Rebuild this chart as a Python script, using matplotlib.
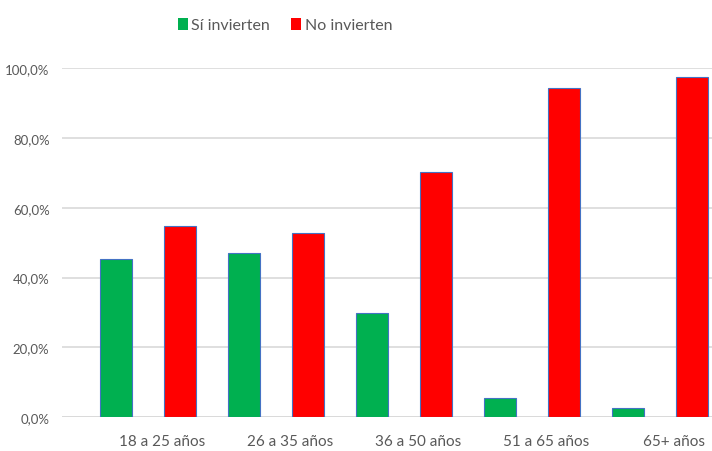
import matplotlib
matplotlib.use("Agg")
import matplotlib.pyplot as plt
import matplotlib.transforms as mtransforms
from matplotlib.ticker import FuncFormatter
from matplotlib.patches import Patch
import numpy as np

categories = ["18 a 25 años", "26 a 35 años", "36 a 50 años", "51 a 65 años", "65+ años"]
si_invierten = [45.2, 47.1, 29.9, 5.6, 2.7]
no_invierten = [54.8, 52.9, 70.1, 94.4, 97.3]
series_names = ["Sí invierten", "No invierten"]
y_ticks = [0, 20, 40, 60, 80, 100]

GREEN = "#00B050"
RED = "#FF0000"
EDGE = "#4472C4"
TEXT = "#595959"
GRID = "#D9D9D9"

plt.rcParams["font.family"] = ["Lato", "DejaVu Sans"]

fig = plt.figure(figsize=(7.12, 4.52), dpi=100)
ax = fig.add_axes([62 / 712, (452 - 418.3) / 452, 1 - 62 / 712, (418.3 - 69) / 452])

x = np.arange(len(categories))
w = 0.25
ax.bar(x - w, si_invierten, width=w, color=GREEN, edgecolor=EDGE, linewidth=0.8, zorder=3)
ax.bar(x + w, no_invierten, width=w, color=RED, edgecolor=EDGE, linewidth=0.8, zorder=3)

ax.set_xlim(-0.672, 4.406)
ax.set_ylim(0, 100)
ax.set_yticks(y_ticks)
ax.yaxis.set_major_formatter(FuncFormatter(lambda v, p: f"{v:.1f}%".replace(".", ",")))
ax.grid(axis="y", color=GRID, linewidth=1.2, zorder=0)
for s in ax.spines.values():
    s.set_visible(False)
ax.axhline(0, color=GRID, linewidth=1.2, zorder=2)

ax.set_xticks(x)
ax.set_xticklabels(categories)
ax.tick_params(axis="both", length=0, colors=TEXT)
ax.tick_params(axis="y", labelsize=9.5, pad=9)
ax.tick_params(axis="x", labelsize=11, pad=12)
shift = mtransforms.ScaledTranslation(14 / 100, 0, fig.dpi_scale_trans)
for lbl in ax.get_xticklabels():
    lbl.set_transform(lbl.get_transform() + shift)

handles = [Patch(facecolor=GREEN, edgecolor="none"), Patch(facecolor=RED, edgecolor="none")]
fig.legend(handles, series_names, loc="center", bbox_to_anchor=(285 / 712, 1 - 26 / 452),
           ncol=2, frameon=False, fontsize=11.5, labelcolor=TEXT, handlelength=0.6,
           handleheight=0.8, handletextpad=0.25, columnspacing=1.3)

fig.savefig("out.png", dpi=100)
